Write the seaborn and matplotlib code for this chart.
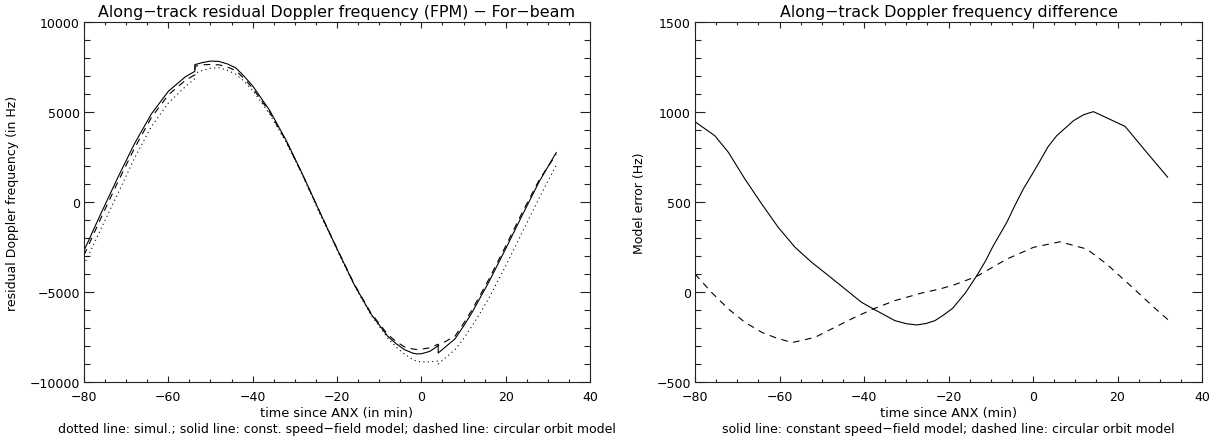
import matplotlib
matplotlib.use("Agg")
import matplotlib.pyplot as plt
from matplotlib.ticker import MultipleLocator
import seaborn as sns
import pandas as pd

# left panel: along-track residual Doppler (Hz) vs time since ANX (min)
t_left = [-80, -76, -72, -68, -64, -60, -56, -53.7, -53.7, -52, -50, -48, -46, -44, -42, -40,
          -36, -32, -28, -24, -20, -16, -12, -8, -6, -4, -2, -1, 0, 2, 4, 4, 8, 10, 12, 14, 16,
          20, 24, 28, 32]
f_simul = [-3500, -1500, 450, 2450, 4200, 5500, 6400, 6850, 7150, 7300, 7430, 7460, 7320, 7100, 6700, 6200,
           4900, 3300, 1400, -700, -2650, -4600, -6250, -7550, -8050, -8450, -8750, -8850, -8880, -8880, -8830, -9000,
           -8200, -7600, -6900, -6150, -5350, -3550, -1650, 250, 2050]
f_const = [-2700, -650, 1350, 3250, 4900, 6150, 6950, 7260, 7630, 7740, 7830, 7810, 7670, 7450, 6980, 6450,
           5100, 3400, 1450, -600, -2600, -4550, -6200, -7450, -7870, -8200, -8400, -8440, -8430, -8300, -7980, -8390,
           -7600, -6900, -6150, -5300, -4450, -2600, -700, 1150, 2750]
f_circ = [-2950, -900, 1100, 3000, 4700, 5950, 6750, 7070, 7540, 7620, 7640, 7620, 7500, 7300, 6850, 6330,
          5000, 3350, 1430, -600, -2580, -4520, -6150, -7350, -7750, -8050, -8170, -8190, -8180, -8100, -7900, -7980,
          -7450, -6750, -6000, -5150, -4300, -2450, -550, 1250, 2650]

# right panel: model error (Hz)
t_err_const = [-80, -75.3, -72.1, -68.2, -64.2, -60.3, -56.3, -52.4, -48.4, -44.5, -40.6, -37.8,
               -32.7, -30, -27.5, -25.3, -23.2, -21, -19, -16, -13.3, -11.3, -9.4, -6.2, -4.3,
               -2.3, -0.3, 1.7, 3.5, 5.6, 9.6, 12, 14.3, 21.8, 26.9, 31.9]
err_const = [946, 868, 776, 628, 489, 359, 248, 165, 91, 17, -57, -94,
             -159, -176, -183, -175, -159, -125, -90, -5, 91, 170, 257, 387, 480,
             572, 650, 730, 805, 868, 952, 985, 1002, 920, 776, 637]
t_err_circ = [-80, -76.1, -72.1, -68.2, -64.2, -60.7, -57, -51.6, -46.9, -42.2, -37.8, -32.7,
              -26.4, -22, -18.5, -13.3, -6.2, 0.1, 6.4, 12.7, 17.4, 22.2, 28.9, 32]
err_circ = [100, -2, -94, -168, -224, -256, -281, -252, -196, -141, -94, -48,
            -6, 17, 41, 87, 183, 248, 279, 239, 156, 54, -91, -155]

DOT = (0, (1, 3))
DASH = (0, (6, 5))
LW = 0.8

sns.set_theme(style="ticks")
plt.rcParams['font.family'] = ['DejaVu Sans']
plt.rcParams['axes.linewidth'] = 0.8
plt.rcParams['axes.edgecolor'] = '#222222'
plt.rcParams['text.color'] = 'black'
plt.rcParams['axes.labelcolor'] = 'black'

fig = plt.figure(figsize=(12.15, 4.39), dpi=100)
ax1 = fig.add_axes([84 / 1215, 1 - 383 / 439, 506 / 1215, 360 / 439])
ax2 = fig.add_axes([695 / 1215, 1 - 383 / 439, 507 / 1215, 360 / 439])

left = pd.DataFrame({"t": t_left, "simul": f_simul, "const": f_const, "circ": f_circ})
sns.lineplot(data=left, x="t", y="simul", ax=ax1, color="black", linewidth=LW,
             linestyle=DOT, estimator=None, sort=False)
sns.lineplot(data=left, x="t", y="const", ax=ax1, color="black", linewidth=LW,
             estimator=None, sort=False)
sns.lineplot(data=left, x="t", y="circ", ax=ax1, color="black", linewidth=LW,
             linestyle=DASH, estimator=None, sort=False)

sns.lineplot(x=t_err_const, y=err_const, ax=ax2, color="black", linewidth=LW,
             estimator=None, sort=False)
sns.lineplot(x=t_err_circ, y=err_circ, ax=ax2, color="black", linewidth=LW,
             linestyle=DASH, estimator=None, sort=False)

ax1.set_ylim(-10000, 10000)
ax2.set_ylim(-500, 1500)
ax1.yaxis.set_major_locator(MultipleLocator(5000))
ax1.yaxis.set_minor_locator(MultipleLocator(1000))
ax2.yaxis.set_major_locator(MultipleLocator(500))
ax2.yaxis.set_minor_locator(MultipleLocator(100))

titles = ["Along\u2212track residual Doppler frequency (FPM) \u2212 For\u2212beam",
          "Along\u2212track Doppler frequency difference"]
ylabels = ["residual Doppler frequency (in Hz)", "Model error (Hz)"]
xlabels = ["time since ANX (in min)", "time since ANX (min)"]
notes = ["dotted line: simul.; solid line: const. speed\u2212field model; dashed line: circular orbit model",
         "solid line: constant speed\u2212field model; dashed line: circular orbit model"]
ylab_x = [-0.128, -0.097]

for i, ax in enumerate([ax1, ax2]):
    ax.set_xlim(-80, 40)
    ax.xaxis.set_major_locator(MultipleLocator(20))
    ax.xaxis.set_minor_locator(MultipleLocator(5))
    ax.tick_params(which="both", direction="in", top=True, right=True, colors="#222222",
                   labelcolor="black", labelsize=9, width=0.8)
    ax.tick_params(axis="x", which="major", length=4.3, pad=6)
    ax.tick_params(axis="x", which="minor", length=2.2)
    ax.tick_params(axis="y", which="major", length=7, pad=3)
    ax.tick_params(axis="y", which="minor", length=4)
    ax.set_title(titles[i], fontsize=11.4, pad=4, color="black")
    ax.set_ylabel(ylabels[i], fontsize=9)
    ax.yaxis.set_label_coords(ylab_x[i], 0.5)
    ax.set_xlabel(xlabels[i], fontsize=9.3, va="top")
    ax.xaxis.set_label_coords(0.5, -0.066)
    ax.text(0.5, -0.128, notes[i], transform=ax.transAxes, ha="center", va="center",
            fontsize=9)

fig.savefig("out.png", dpi=100, facecolor="white")
